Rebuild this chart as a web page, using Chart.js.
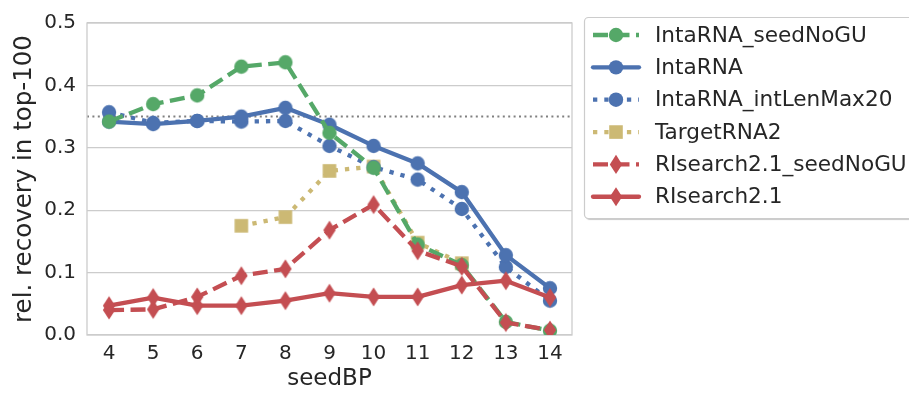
<!DOCTYPE html>
<html>
<head>
<meta charset="utf-8">
<title>seedBP recovery</title>
<script src="https://cdn.jsdelivr.net/npm/chart.js@4/dist/chart.umd.min.js"></script>
<style>
  html, body { margin: 0; padding: 0; background: #ffffff; }
  #wrap { width: 909px; height: 393px; position: relative; }
</style>
</head>
<body>
<div id="wrap"><canvas id="chart" width="909" height="393"></canvas></div>
<script>
// seed length (bp) on the x axis
const seedBP = [4, 5, 6, 7, 8, 9, 10, 11, 12, 13, 14];

// relative recovery in the top-100 predictions, per tool / setting
const intaRNASeedNoGU   = [0.342, 0.370, 0.384, 0.430, 0.437, 0.324, 0.268, 0.145, 0.112, 0.021, 0.007];
const intaRNA           = [0.342, 0.338, 0.343, 0.350, 0.364, 0.337, 0.303, 0.275, 0.229, 0.128, 0.075];
const intaRNAIntLenMax  = [0.357, 0.340, 0.343, 0.342, 0.343, 0.303, 0.269, 0.249, 0.202, 0.109, 0.055];
const targetRNA2        = [null, null, null, 0.175, 0.189, 0.263, 0.270, 0.148, 0.115, null, null];
const risearchSeedNoGU  = [0.040, 0.041, 0.061, 0.095, 0.106, 0.168, 0.209, 0.135, 0.110, 0.020, 0.008];
const risearch          = [0.047, 0.060, 0.047, 0.047, 0.055, 0.067, 0.061, 0.061, 0.080, 0.087, 0.060];

// y axis tick values and the horizontal reference level
const yTickValues = [0.0, 0.1, 0.2, 0.3, 0.4, 0.5];
const referenceLevel = 0.35;

const GREEN = '#55A868', BLUE = '#4C72B0', TAN = '#CCB974', RED = '#C44E52';
const TEXT = '#262626', GRID = '#cccccc';
const LW = 4.3;
const DASHED = [15, 6.5];
const DOTTED = [4.3, 7];

Chart.defaults.font.family = '"DejaVu Sans", sans-serif';
Chart.defaults.color = TEXT;

function drawMarker(ctx, shape, x, y, color) {
  ctx.save();
  ctx.fillStyle = color;
  ctx.beginPath();
  if (shape === 'circle') {
    ctx.arc(x, y, 7.2, 0, Math.PI * 2);
  } else if (shape === 'square') {
    ctx.rect(x - 6.8, y - 6.8, 13.6, 13.6);
  } else {
    // thin diamond
    ctx.moveTo(x, y - 9.6);
    ctx.lineTo(x + 6.2, y);
    ctx.lineTo(x, y + 9.6);
    ctx.lineTo(x - 6.2, y);
    ctx.closePath();
  }
  ctx.fill();
  ctx.restore();
}

function markerCanvas(shape, color) {
  const c = document.createElement('canvas');
  c.width = 24; c.height = 24;
  drawMarker(c.getContext('2d'), shape, 12, 12, color);
  return c;
}

function series(label, data, color, dash, shape, order) {
  return {
    label, data, order,
    borderColor: color,
    backgroundColor: color,
    borderWidth: LW,
    borderDash: dash,
    borderCapStyle: dash.length ? 'butt' : 'round',
    borderJoinStyle: 'round',
    pointStyle: markerCanvas(shape, color),
    pointRadius: 7,
    pointHoverRadius: 7,
    tension: 0,
    spanGaps: false,
    clip: 0,
    markerShape: shape
  };
}

const datasets = [
  series('IntaRNA_seedNoGU', intaRNASeedNoGU, GREEN, DASHED, 'circle', 2),
  series('IntaRNA', intaRNA, BLUE, [], 'circle', 3),
  series('IntaRNA_intLenMax20', intaRNAIntLenMax, BLUE, DOTTED, 'circle', 4),
  series('TargetRNA2', targetRNA2, TAN, DOTTED, 'square', 5),
  series('RIsearch2.1_seedNoGU', risearchSeedNoGU, RED, DASHED, 'diamond', 1),
  series('RIsearch2.1', risearch, RED, [], 'diamond', 0)
];

// frame around the plot area plus the dotted reference level
const framePlugin = {
  id: 'frameAndReference',
  beforeDatasetsDraw(chart) {
    const { ctx, chartArea: a, scales } = chart;
    ctx.save();
    const yRef = scales.y.getPixelForValue(referenceLevel);
    ctx.strokeStyle = '#808080';
    ctx.lineWidth = 2;
    ctx.setLineDash([2, 3.4]);
    ctx.beginPath();
    ctx.moveTo(a.left, yRef);
    ctx.lineTo(a.right, yRef);
    ctx.stroke();
    ctx.setLineDash([]);
    ctx.strokeStyle = GRID;
    ctx.lineWidth = 1.3;
    ctx.strokeRect(a.left, a.top, a.right - a.left, a.bottom - a.top);
    ctx.restore();
  }
};

// legend box to the right of the plot
const legendPlugin = {
  id: 'sideLegend',
  afterDraw(chart) {
    const ctx = chart.ctx;
    ctx.save();
    const bx = 584.5, by = 17.5, bw = 340, bh = 201, r = 4;
    ctx.beginPath();
    ctx.roundRect(bx, by, bw, bh, r);
    ctx.shadowColor = 'rgba(0,0,0,0.22)';
    ctx.shadowOffsetX = 1.5;
    ctx.shadowOffsetY = 1.5;
    ctx.shadowBlur = 1;
    ctx.fillStyle = '#ffffff';
    ctx.fill();
    ctx.shadowColor = 'transparent';
    ctx.strokeStyle = GRID;
    ctx.lineWidth = 1.2;
    ctx.stroke();

    chart.data.datasets.forEach((ds, i) => {
      const y = 35 + i * 32.35;
      ctx.save();
      ctx.strokeStyle = ds.borderColor;
      ctx.lineWidth = ds.borderWidth;
      ctx.lineCap = ds.borderDash.length ? 'butt' : 'round';
      ctx.setLineDash(ds.borderDash);
      ctx.beginPath();
      ctx.moveTo(593, y);
      ctx.lineTo(639, y);
      ctx.stroke();
      ctx.restore();
      drawMarker(ctx, ds.markerShape, 616, y, ds.borderColor);
      ctx.fillStyle = TEXT;
      ctx.font = '21.6px "DejaVu Sans"';
      ctx.textBaseline = 'middle';
      ctx.textAlign = 'left';
      ctx.fillText(ds.label, 655, y + 1);
    });
    ctx.restore();
  }
};

new Chart(document.getElementById('chart'), {
  type: 'line',
  data: { labels: seedBP, datasets },
  options: {
    responsive: false,
    animation: false,
    devicePixelRatio: 1,
    events: [],
    layout: { padding: { top: 20, right: 337, bottom: 0, left: 0 } },
    plugins: { legend: { display: false }, tooltip: { enabled: false } },
    scales: {
      x: {
        type: 'category',
        offset: true,
        grid: { display: false, drawTicks: false },
        border: { display: false },
        ticks: { padding: 7, font: { size: 20 }, color: TEXT, maxRotation: 0, autoSkip: false },
        title: { display: true, text: 'seedBP', font: { size: 23 }, color: TEXT, padding: { top: 0, bottom: 0 } },
        afterFit(s) { s.height = 58; }
      },
      y: {
        min: 0,
        max: 0.5,
        afterBuildTicks(s) { s.ticks = yTickValues.map(v => ({ value: v })); },
        ticks: { padding: 11, font: { size: 20 }, color: TEXT, callback: v => Number(v).toFixed(1) },
        grid: { color: GRID, lineWidth: 1.3, drawTicks: false },
        border: { display: false },
        title: { display: true, text: 'rel. recovery in top-100', font: { size: 24.5 }, color: TEXT, padding: { top: 10, bottom: 0 } },
        afterFit(s) { s.width = 87; }
      }
    }
  },
  plugins: [framePlugin, legendPlugin]
});
</script>
</body>
</html>
